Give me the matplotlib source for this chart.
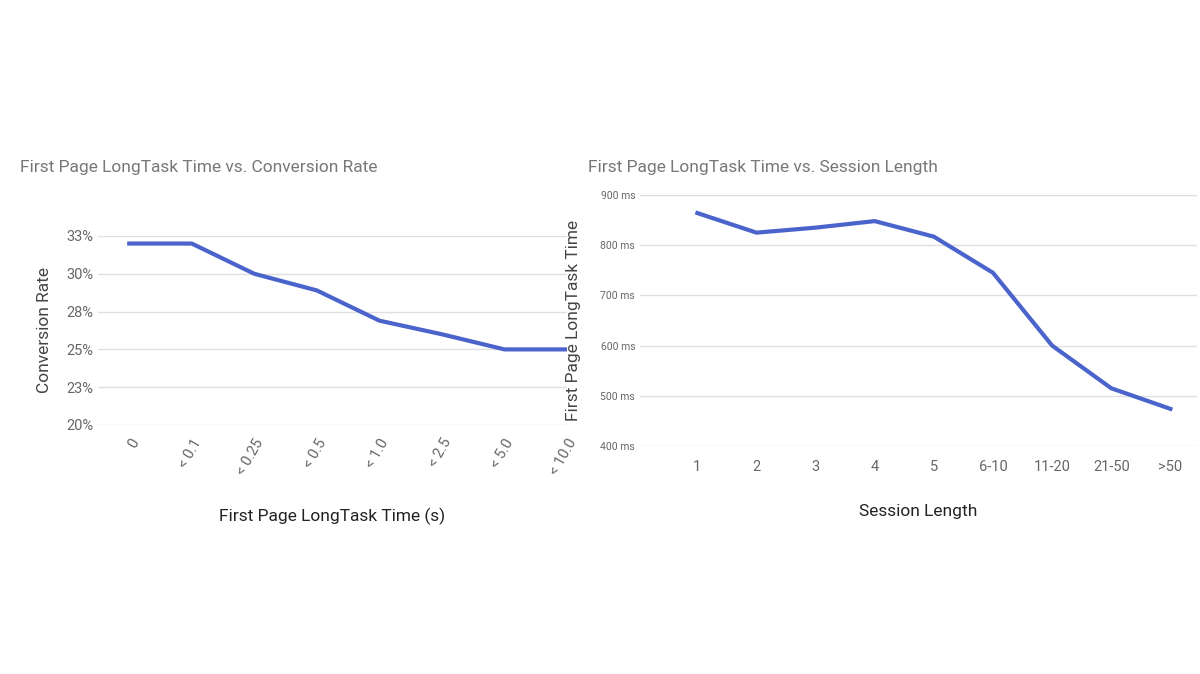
import matplotlib.pyplot as plt

plt.rcParams['font.family'] = 'Roboto'

conv_labels = ['0', '< 0.1', '< 0.25', '< 0.5', '< 1.0', '< 2.5', '< 5.0', '< 10.0']
conv_rate = [32.0, 32.0, 30.0, 28.9, 26.9, 26.0, 25.0, 25.0]
conv_ticks = [20, 22.5, 25, 27.5, 30, 32.5]
conv_tick_labels = ['20%', '23%', '25%', '28%', '30%', '33%']

sess_labels = ['1', '2', '3', '4', '5', '6-10', '11-20', '21-50', '>50']
sess_ms = [864, 825, 835, 848, 817, 745, 600, 515, 474]
sess_ticks = [400, 500, 600, 700, 800, 900]

BLUE = '#4a64cc'
GRID = '#e0e0e0'
TXT = '#666666'

fig = plt.figure(figsize=(12, 6.74), dpi=100)

def style(ax):
    for s in ax.spines.values():
        s.set_visible(False)
    ax.grid(axis='y', color=GRID, lw=1)
    ax.set_axisbelow(True)
    ax.tick_params(length=0, colors=TXT)

# left chart
ax1 = fig.add_axes([98/1200, 1-425/674, (567-98)/1200, (425-236)/674])
ax1.plot(range(len(conv_rate)), conv_rate, color=BLUE, lw=3)
ax1.set_ylim(20, 32.5)
ax1.set_yticks(conv_ticks)
ax1.set_yticklabels(conv_tick_labels, fontsize=10.5)
ax1.set_xlim(-0.5, 7)
ax1.set_xticks(range(len(conv_labels)))
ax1.set_xticklabels(conv_labels, rotation=60, ha='right', va='top',
                    rotation_mode='anchor', fontsize=10.5)
ax1.tick_params(axis='x', pad=8)
style(ax1)
ax1.set_ylabel('Conversion Rate', fontsize=12.5, color='#444444', labelpad=10)
ax1.set_xlabel('First Page LongTask Time (s)', fontsize=12.5, color='#222222', labelpad=22)
fig.text(20/1200, 1-167/674, 'First Page LongTask Time vs. Conversion Rate',
         fontsize=12.5, color='#777777', va='center')

# right chart
ax2 = fig.add_axes([640/1200, 1-446/674, (1197-640)/1200, (446-195)/674])
ax2.plot(range(len(sess_ms)), sess_ms, color=BLUE, lw=3)
ax2.set_ylim(400, 900)
ax2.set_yticks(sess_ticks)
ax2.set_yticklabels([f'{v} ms' for v in sess_ticks], fontsize=7.5)
ax2.set_xlim(-0.97, 8.45)
ax2.set_xticks(range(len(sess_labels)))
ax2.set_xticklabels(sess_labels, fontsize=10.5)
ax2.tick_params(axis='x', pad=10)
style(ax2)
ax2.set_ylabel('First Page LongTask Time', fontsize=12.5, color='#444444', labelpad=14)
ax2.set_xlabel('Session Length', fontsize=12.5, color='#222222', labelpad=22)
fig.text(588/1200, 1-167/674, 'First Page LongTask Time vs. Session Length',
         fontsize=12.5, color='#777777', va='center')

fig.savefig('out.png')
